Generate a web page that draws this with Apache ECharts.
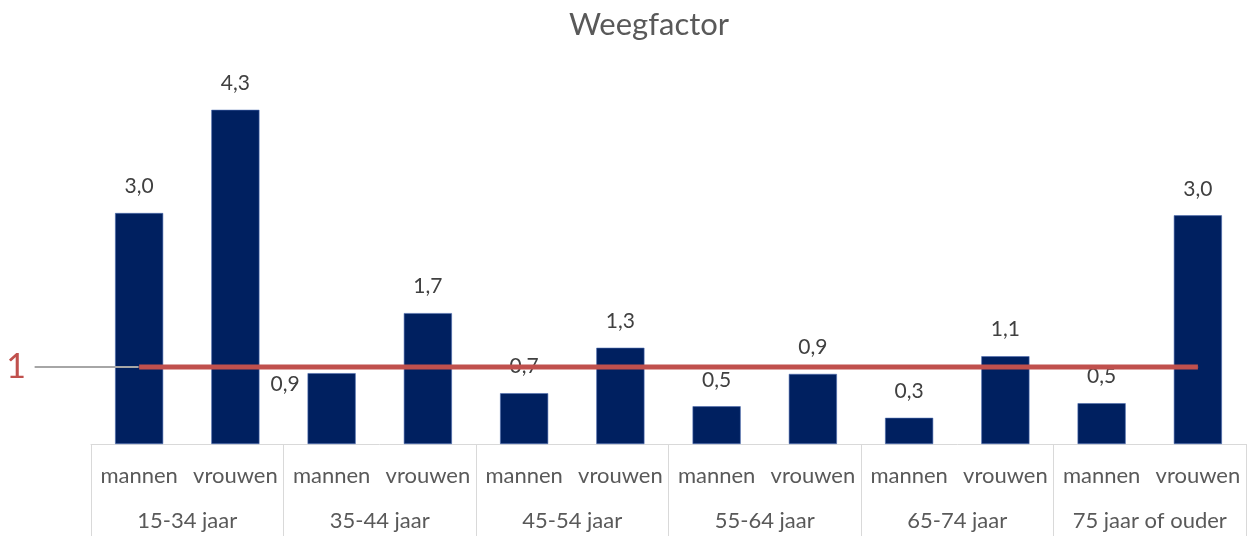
<!DOCTYPE html>
<html>
<head>
<meta charset="utf-8">
<script src="https://cdn.jsdelivr.net/npm/echarts@6/dist/echarts.min.js"></script>
<style>
  html, body { margin: 0; padding: 0; background: #fff; }
  #chart { width: 1250px; height: 536px; }
</style>
</head>
<body>
<div id="chart"></div>
<script>
// categories
const sexes = ['mannen', 'vrouwen', 'mannen', 'vrouwen', 'mannen', 'vrouwen',
               'mannen', 'vrouwen', 'mannen', 'vrouwen', 'mannen', 'vrouwen']
const ageGroups = ['15-34 jaar', '35-44 jaar', '45-54 jaar', '55-64 jaar', '65-74 jaar', '75 jaar of ouder']
// weegfactor per categorie
const weights = [3.0, 4.34, 0.92, 1.70, 0.66, 1.25, 0.49, 0.91, 0.34, 1.14, 0.53, 2.97]
const reference = 1

const font = 'Lato, "Open Sans", sans-serif'
const chart = echarts.init(document.getElementById('chart'))

const barData = weights.map((v, i) => {
    if (i === 2) {
        // label sits left of the bar, below the reference line
        return { value: v, label: { position: [-37, 1], align: 'left', verticalAlign: 'top' } }
    }
    return v
})

const lineData = sexes.map((s, i) => {
    if (i === 0) {
        return { value: reference, label: { show: true } }
    }
    return reference
})

chart.setOption({
    animation: false,
    title: {
        text: 'Weegfactor',
        left: 564,
        top: 4,
        textStyle: { fontFamily: font, fontSize: 31, fontWeight: 'normal', color: '#595959' },
    },
    grid: { left: 91, right: 4, top: 59, bottom: 92 },
    xAxis: [
        {
            type: 'category',
            data: sexes,
            axisLine: { lineStyle: { color: '#d9d9d9', width: 1 } },
            axisTick: { show: false },
            axisLabel: { margin: 21, fontFamily: font, fontSize: 22, color: '#595959', interval: 0 },
        },
        {
            type: 'category',
            data: ageGroups,
            position: 'bottom',
            axisLine: { show: false },
            axisTick: { show: true, length: 92, lineStyle: { color: '#d9d9d9', width: 1 } },
            axisLabel: { margin: 66, fontFamily: font, fontSize: 22, color: '#595959', interval: 0 },
        },
    ],
    yAxis: {
        type: 'value',
        min: 0,
        max: 5,
        show: false,
        splitLine: { show: false },
    },
    series: [
        {
            type: 'bar',
            data: barData,
            barWidth: '50%',
            itemStyle: { color: '#002060', borderColor: '#4d6db0', borderWidth: 0.6 },
            label: {
                show: true,
                position: 'top',
                distance: 16,
                fontFamily: font,
                fontSize: 21,
                color: '#404040',
                formatter: p => p.value.toFixed(1).replace('.', ','),
            },
        },
        {
            type: 'line',
            data: lineData,
            z: 5,
            symbol: 'circle',
            symbolSize: 1,
            itemStyle: { color: '#c0504d' },
            lineStyle: { color: '#c0504d', width: 5 },
            label: {
                show: false,
                position: 'left',
                distance: 5,
                formatter: '1 ',
                fontFamily: font,
                fontSize: 34,
                color: '#c0504d',
            },
            labelLayout: p => (p.dataIndex === 0 ? { dx: -99 } : {}),
            labelLine: { show: true, lineStyle: { color: '#a6a6a6', width: 2 } },
        },
    ],
})
</script>
</body>
</html>
